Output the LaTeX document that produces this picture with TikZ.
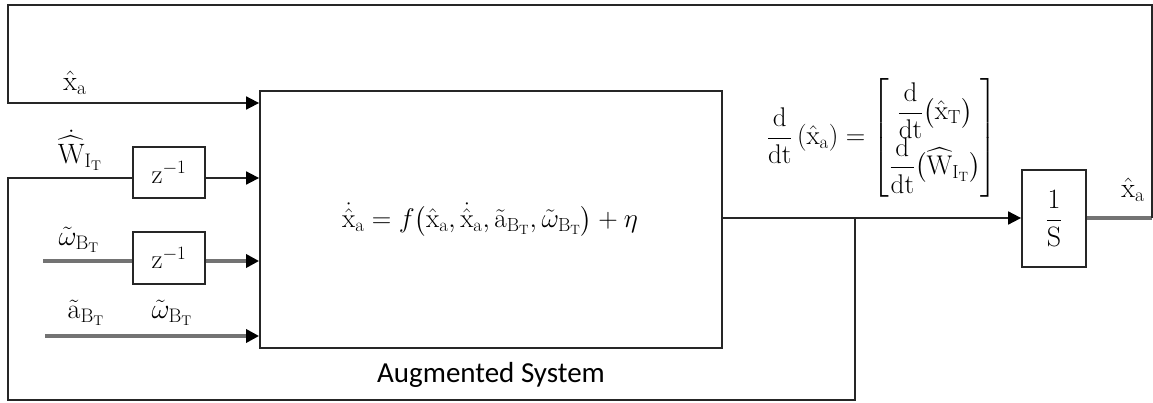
\RequirePackage{fix-cm}
\documentclass[tikz,border=0pt]{standalone}
\usepackage{amsmath}
\usepackage{fontspec}
\newfontfamily\capfont{Carlito}
\usetikzlibrary{arrows.meta}
\newcommand{\xa}{\hat{\mathrm{x}}_{\mathrm{a}}}
\newcommand{\dxa}{\dot{\hat{\mathrm{x}}}_{\mathrm{a}}}
\newcommand{\BT}{{\mathrm{B}_{\mathrm{T}}}}
\begin{document}
\begin{tikzpicture}[x=1pt,y=-1pt,
  wire/.style={line width=1.8pt, draw=black!85},
  gwire/.style={line width=3.4pt, draw=black!55},
  tip/.style={-{Triangle[length=13pt,width=13pt,color=black]}},
  block/.style={draw=black!85, line width=1.8pt, inner sep=0pt},
  lab/.style={inner sep=0pt, font=\fontsize{28}{32}\selectfont}]
\useasboundingbox (0,0) rectangle (1153,403);

% blocks
\node[block, minimum width=462pt, minimum height=257pt] (sys) at (491,219.5) {};
\node[lab, font=\fontsize{27}{31}\selectfont] (eq) at (490,220)
  {$\dxa = f\big(\xa,\dxa,\tilde{\mathrm{a}}_\BT,\tilde{\omega}_\BT\big) + \eta$};
\node[lab, font=\capfont\fontsize{29}{32}\selectfont, anchor=base] (cap) at (491,382) {Augmented System};

\node[block, minimum width=72pt, minimum height=51pt, font=\fontsize{27}{30}\selectfont] (z1) at (169,172.5) {$\mathrm{z}^{-1}$};
\node[block, minimum width=72pt, minimum height=52pt, font=\fontsize{27}{30}\selectfont] (z2) at (169,258) {$\mathrm{z}^{-1}$};
\node[block, minimum width=64pt, minimum height=97pt, font=\fontsize{28}{32}\selectfont] (int) at (1054,218.5) {$\dfrac{1}{\mathrm{S}}$};

% wiring points
\coordinate (out) at (1152,218);
\coordinate (tr) at (1152,5);
\coordinate (tl) at (8,5);
\coordinate (l1) at (8,103);
\coordinate (jn) at (855,218);
\coordinate (br) at (855,400);
\coordinate (bl) at (8,400);
\coordinate (l2) at (8,178);
\coordinate (w3) at (43,261);
\coordinate (w4) at (45,336);

% output path and feedback loops
\draw[wire,tip] (sys.east |- jn) -- (int.west |- jn);
\draw[gwire] (int.east |- out) -- (out);
\draw[wire,tip] (out) -- (tr) -- (tl) -- (l1) -- (sys.west |- l1);
\draw[wire] (jn) -- (br) -- (bl) -- (l2) -- (z1.west |- l2);
\draw[wire,tip] (z1.east |- l2) -- (sys.west |- l2);
\draw[gwire] (w3) -- (z2.west |- w3);
\draw[gwire,tip] (z2.east |- w3) -- (sys.west |- w3);
\draw[gwire,tip] (w4) -- (sys.west |- w4);

% signal labels
\node[lab] (lxa) at (75,83) {$\xa$};
\node[lab] (lw) at (80,150) {$\dot{\widehat{\mathrm{W}}}_{\mathrm{I}_{\mathrm{T}}}$};
\node[lab] (lom1) at (79,240) {$\tilde{\omega}_\BT$};
\node[lab] (la) at (86,313) {$\tilde{\mathrm{a}}_\BT$};
\node[lab] (lom2) at (172,313) {$\tilde{\omega}_\BT$};
\node[lab] (lout) at (1133,190) {$\xa$};
\node[lab, font=\fontsize{27}{31}\selectfont] (deq) at (882,138)
  {$\dfrac{\mathrm{d}}{\mathrm{dt}}\left(\xa\right) =
    \begin{bmatrix} \dfrac{\mathrm{d}}{\mathrm{dt}}\big(\hat{\mathrm{x}}_{\mathrm{T}}\big)\\[-1pt]
    \dfrac{\mathrm{d}}{\mathrm{dt}}\big(\widehat{\mathrm{W}}_{\mathrm{I}_{\mathrm{T}}}\big)\end{bmatrix}$};
\end{tikzpicture}
\end{document}
